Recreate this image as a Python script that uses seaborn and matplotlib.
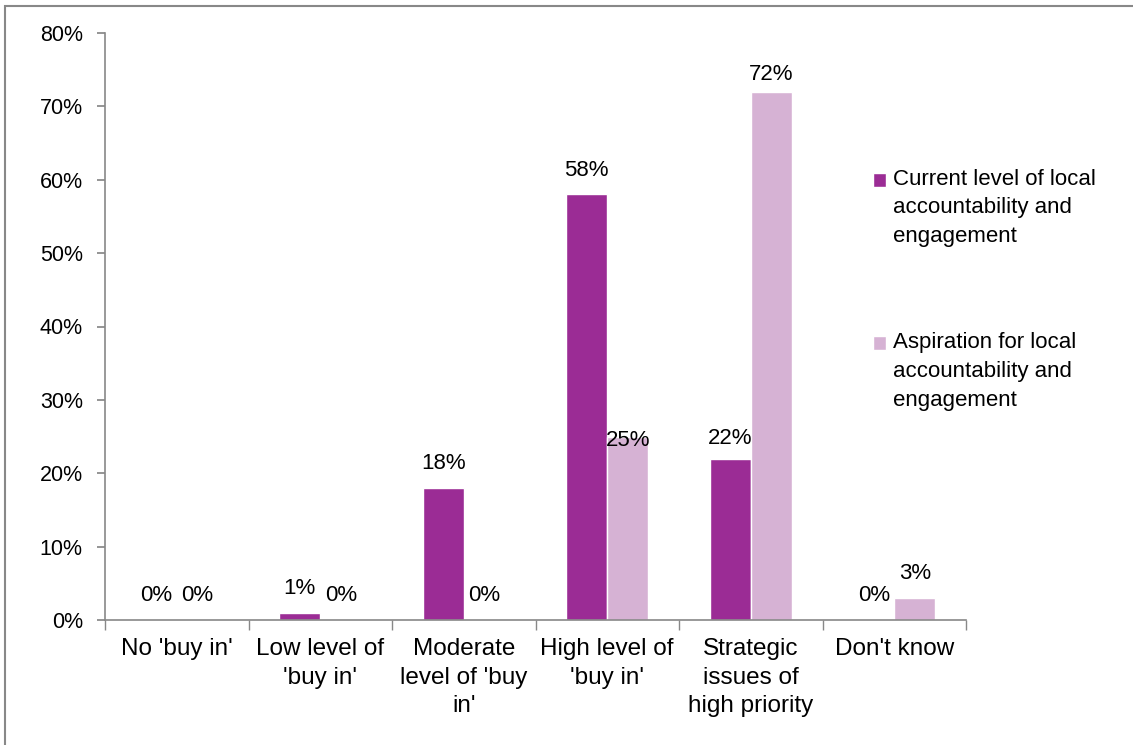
import matplotlib
matplotlib.use("Agg")
import matplotlib.pyplot as plt
import seaborn as sns
import pandas as pd
import numpy as np
from matplotlib.patches import Rectangle
from matplotlib.legend_handler import HandlerPatch

categories = ["No 'buy in'", "Low level of\n'buy in'", "Moderate\nlevel of 'buy\nin'",
              "High level of\n'buy in'", "Strategic\nissues of\nhigh priority", "Don't know"]
series_names = ["Current level of local\naccountability and\nengagement",
                "Aspiration for local\naccountability and\nengagement"]
current = [0, 1, 18, 58, 22, 0]
aspiration = [0, 0, 0, 25, 72, 3]
y_ticks = [0, 10, 20, 30, 40, 50, 60, 70, 80]

colors = ["#9B2C95", "#D6B2D4"]

sns.set_theme(style="white")
plt.rcParams['font.family'] = ['Liberation Sans', 'DejaVu Sans']
plt.rcParams['text.color'] = 'black'
plt.rcParams['xtick.color'] = 'black'
plt.rcParams['ytick.color'] = 'black'

df = pd.DataFrame({
    "category": categories * 2,
    "series": [series_names[0]] * len(categories) + [series_names[1]] * len(categories),
    "value": current + aspiration,
})

fig = plt.figure(figsize=(11.33, 7.45), dpi=100)
ax = fig.add_axes([105/1133, 1 - 620/745, (966 - 105)/1133, (620 - 33)/745])

sns.barplot(data=df, x="category", y="value", hue="series", order=categories,
            hue_order=series_names, palette=colors, width=0.57, gap=0,
            saturation=1, ax=ax, legend=True)

ax.set_ylim(0, 80)
ax.set_xlim(-0.5, len(categories) - 0.5)
ax.set_yticks(y_ticks)
ax.set_yticklabels([f"{v}%" for v in y_ticks], fontsize=15.5)
ax.set_xticks(range(len(categories)))
ax.set_xticklabels(categories, fontsize=17.5, linespacing=1.38)
ax.tick_params(axis='x', which='major', length=0, pad=13, colors='black')
ax.set_xticks(np.arange(-0.5, len(categories), 1.0), minor=True)
ax.tick_params(axis='x', which='minor', length=7, direction='out', color='#888888', bottom=True)
ax.tick_params(axis='y', length=6, direction='out', color='#888888', labelcolor='black', left=True, pad=10)
ax.set_xlabel("")
ax.set_ylabel("")
for s in ["top", "right"]:
    ax.spines[s].set_visible(False)
for s in ["left", "bottom"]:
    ax.spines[s].set_color('#888888')
    ax.spines[s].set_linewidth(1.2)

# label offsets (points) that differ from the default, keyed by (series index, category index)
label_pad_override = {(1, 3): -10.5, (1, 4): 5, (0, 4): 7}
for si, cont in enumerate(ax.containers):
    anns = ax.bar_label(cont, labels=[f"{int(v)}%" for v in cont.datavalues], padding=10,
                        fontsize=16, color='black')
    for ci, ann in enumerate(anns):
        if (si, ci) in label_pad_override:
            ann.xyann = (0, label_pad_override[(si, ci)])


class TopHandler(HandlerPatch):
    def __init__(self, offset, **kw):
        super().__init__(**kw)
        self.offset = offset

    def create_artists(self, legend, orig_handle, xdescent, ydescent, width, height, fontsize, trans):
        arts = super().create_artists(legend, orig_handle, xdescent, ydescent, width, height, fontsize, trans)
        for a in arts:
            a.set_y(a.get_y() + self.offset)
        return arts


handles, labels = ax.get_legend_handles_labels()
ax.get_legend().remove()
leg = fig.legend(handles, labels, loc="upper left", bbox_to_anchor=(864/1133, 1 - 160/745),
                 frameon=False, fontsize=16, handlelength=0.6, handleheight=0.6,
                 handletextpad=0.3, labelspacing=3.85, borderaxespad=0,
                 handler_map={type(handles[0]): TopHandler(20.5)})
for t in leg.get_texts():
    t.set_linespacing(1.47)
    t.set_color('black')

# chart border
fig.patches.append(Rectangle((5/1133, -0.1), 1.2, 0.1 + (745 - 6)/745, transform=fig.transFigure,
                             fill=False, edgecolor='#888888', linewidth=1.5))

fig.savefig("out.png", dpi=100)
